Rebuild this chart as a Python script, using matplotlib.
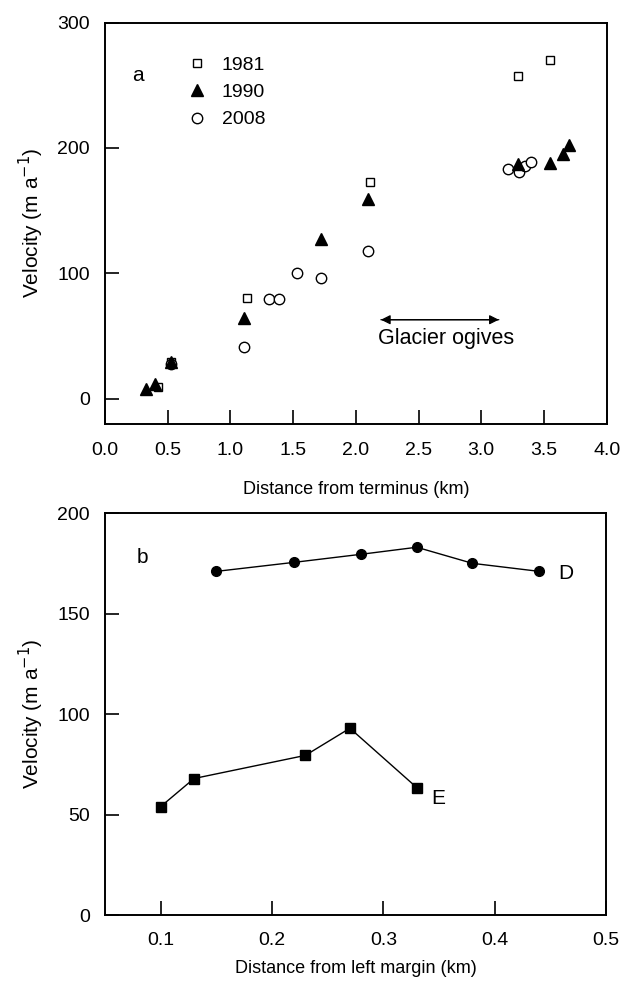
import numpy as np
import matplotlib.pyplot as plt

plt.rcParams['font.family'] = ['Liberation Sans', 'DejaVu Sans']

# panel a: velocity vs distance from terminus
x1981 = [0.42, 0.53, 1.13, 2.11, 3.29, 3.55]
v1981 = [9, 29, 80.5, 173, 257, 270]
x1990 = [0.33, 0.40, 0.53, 1.11, 1.72, 2.10, 3.29, 3.55, 3.65, 3.70]
v1990 = [8, 12, 29, 64, 127, 159, 187, 188, 195, 202]
x2008 = [0.53, 1.11, 1.31, 1.39, 1.53, 1.72, 2.10, 3.21, 3.30, 3.35, 3.40]
v2008 = [28, 41, 79.5, 79.5, 100, 96.5, 118, 183, 181, 186, 189]

# panel b: velocity vs distance from left margin
xD = [0.15, 0.22, 0.28, 0.33, 0.38, 0.44]
vD = [171, 175.5, 179.5, 183, 175, 171]
xE = [0.10, 0.13, 0.23, 0.27, 0.33]
vE = [54, 68, 79.5, 93, 63.5]

fig = plt.figure(figsize=(6.32, 9.81), dpi=100)
ax1 = fig.add_axes([0.166, 0.568, 0.794, 0.409])
ax2 = fig.add_axes([0.166, 0.067, 0.793, 0.410])

ylab_font = dict(family=['Liberation Sans Narrow', 'Liberation Sans'], size=15)

for ax in (ax1, ax2):
    for s in ax.spines.values():
        s.set_linewidth(1.4)
    ax.tick_params(direction='in', length=10, width=1.2, labelsize=14)
    ax.tick_params(axis='y', pad=11)

ax1.tick_params(axis='x', pad=13)
ax2.tick_params(axis='x', pad=12)

ax1.plot(x1981, v1981, 's', mfc='white', mec='black', ms=6, mew=1, label='1981', zorder=2)
ax1.plot(x1990, v1990, '^', color='black', ms=8, label='1990', zorder=4)
ax1.plot(x2008, v2008, 'o', mfc='white', mec='black', ms=7.5, mew=1, label='2008', zorder=3)
ax1.set_xlim(0, 4)
ax1.set_ylim(-20, 300)
ax1.set_xticks(np.arange(0, 4.01, 0.5))
ax1.set_xticklabels(['0.0', '0.5', '1.0', '1.5', '2.0', '2.5', '3.0', '3.5', '4.0'])
ax1.set_yticks([0, 100, 200, 300])
ax1.set_xlabel('Distance from terminus (km)', fontsize=13, labelpad=16)
ax1.set_ylabel('Velocity (m a$^{-1}$)', fontdict=ylab_font, labelpad=8)
ax1.legend(loc='upper left', bbox_to_anchor=(0.13, 0.96), frameon=False,
           fontsize=14, handletextpad=0.75, labelspacing=0.5, handlelength=1.0)
ax1.text(0.26, 258, 'a', fontsize=15, va='center', ha='center')
ax1.annotate('', xy=(2.2, 63), xytext=(3.14, 63),
             arrowprops=dict(arrowstyle='-|>', color='black', lw=0.9,
                             mutation_scale=14, shrinkA=0, shrinkB=0))
ax1.annotate('', xy=(3.14, 63), xytext=(2.2, 63),
             arrowprops=dict(arrowstyle='-|>', color='black', lw=0.9,
                             mutation_scale=14, shrinkA=0, shrinkB=0))
ax1.text(2.72, 48, 'Glacier ogives', fontsize=15.5, ha='center', va='center')

ax2.plot(xD, vD, '-o', color='black', ms=7, lw=1)
ax2.plot(xE, vE, '-s', color='black', ms=6.5, lw=1)
ax2.set_xlim(0.05, 0.5)
ax2.set_ylim(0, 200)
ax2.set_xticks([0.1, 0.2, 0.3, 0.4, 0.5])
ax2.set_yticks([0, 50, 100, 150, 200])
ax2.set_xlabel('Distance from left margin (km)', fontsize=13, labelpad=8)
ax2.set_ylabel('Velocity (m a$^{-1}$)', fontdict=ylab_font, labelpad=8)
ax2.text(0.084, 178, 'b', fontsize=15, va='center', ha='center')
ax2.text(0.457, 170, 'D', fontsize=15, va='center')
ax2.text(0.343, 58, 'E', fontsize=15, va='center')

fig.savefig('out.png', dpi=100)
